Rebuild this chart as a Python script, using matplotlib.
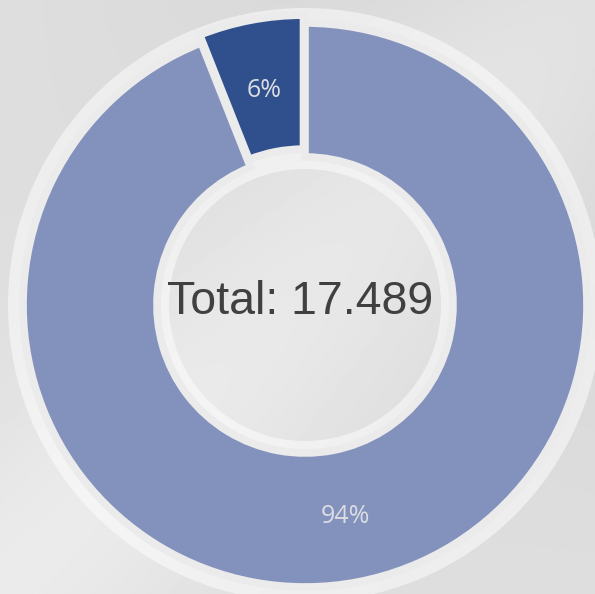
import matplotlib.pyplot as plt
import numpy as np

labels = ['A', 'B']
values = [1.049, 16.440]
colors = ['#2f508c', '#8391bd']
total_text = 'Total: 17.489'

fig = plt.figure(figsize=(5.95, 5.94), dpi=100)
ax = fig.add_axes([0, 0, 1, 1])

# soft grey photo-like background
yy, xx = np.mgrid[0:1:300j, 0:1:300j]
band = np.exp(-((xx - (1 - yy)) * 3.0) ** 2)
bg = 0.87 + 0.05 * band - 0.04 * xx * (1 - yy)
ax.imshow(bg, cmap='gray', vmin=0, vmax=1, extent=(0, 595, 0, 594),
          origin='upper', zorder=0)

cx, cy = 305, 289
# light ring behind the donut
ring = plt.matplotlib.patches.Wedge((cx, cy), 297, 0, 360, width=161,
                                    facecolor='white', alpha=0.5,
                                    edgecolor='none', zorder=1)
ax.add_patch(ring)

# explode is in data units here (pixels)
wedges, texts = ax.pie(values, colors=colors, startangle=90, counterclock=True,
                       center=(cx, cy), radius=282, explode=[8, 0],
                       wedgeprops=dict(width=134, edgecolor='#ebebeb',
                                       linewidth=5.5),
                       frame=True)
for w in wedges:
    w.set_zorder(2)

ax.set_xlim(0, 595)
ax.set_ylim(0, 594)
ax.set_aspect('equal')
ax.axis('off')

# percent labels at ring middle
s = sum(values)
ang = 90
for i, v in enumerate(values):
    mid = np.deg2rad(ang + v / s * 180)
    r = 215 + (3 if i == 0 else 0)
    ax.text(cx + r * np.cos(mid), cy + r * np.sin(mid), '%d%%' % round(v / s * 100),
            ha='center', va='center', color='#dcdde3', fontsize=18,
            family='Open Sans', zorder=3)
    ang += v / s * 360

ax.text(cx - 5, cy + 3, total_text, ha='center', va='center', fontsize=33.5,
        color='#404040', family='Liberation Sans', zorder=3)

fig.savefig('out.png', dpi=100)
